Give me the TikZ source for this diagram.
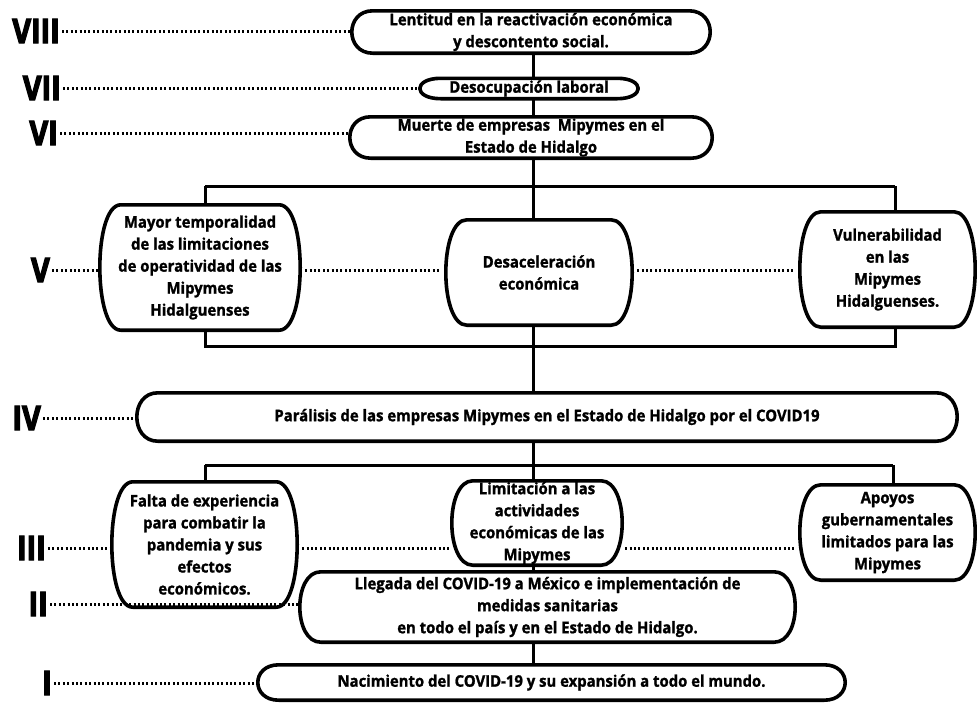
\documentclass[tikz,border=0pt]{standalone}
\usepackage{fontspec}
\setmainfont{Open Sans}[FakeStretch=0.93,BoldFeatures={FakeBold=1.3}]
\newfontfamily\romanf{Open Sans}[FakeStretch=0.85,FakeBold=3.5]
\newcommand\bulgebox[1]{\draw[boxline] ([xshift=21pt]#1.north west) -- ([xshift=-21pt]#1.north east) .. controls ([xshift=7pt]#1.north east) and ([xshift=7pt]#1.south east) .. ([xshift=-21pt]#1.south east) -- ([xshift=21pt]#1.south west) .. controls ([xshift=-7pt]#1.south west) and ([xshift=-7pt]#1.north west) .. cycle;}
\begin{document}
\begin{tikzpicture}[x=1pt,y=-1pt,
  box/.style={draw=none, align=center, font=\bfseries\fontsize{16}{22}\selectfont, inner sep=0pt},
  boxline/.style={line width=3.6pt, line join=round},
  conn/.style={line width=3pt},
  dots/.style={line width=3pt, dash pattern=on 2pt off 2.4pt},
  rom/.style={font=\romanf\bfseries\fontsize{34}{34}\selectfont, anchor=east, inner sep=0pt}]
\useasboundingbox[fill=white] (0,0) rectangle (977,710);
% boxes
\node[box, minimum width=358pt, minimum height=42pt] (n8) at (531,32) {Lentitud en la reactivación económica\\y descontento social.};
\node[box, minimum width=218pt, minimum height=20pt] (n7) at (529,88.5) {Desocupación laboral};
\node[box, minimum width=362pt, minimum height=41pt] (n6) at (531,137.5) {Muerte de empresas\ \ Mipymes en el\\Estado de Hidalgo};
\node[box, minimum width=200pt, minimum height=125pt] (v1) at (200,267.5) {Mayor temporalidad\\de las limitaciones\\de operatividad de las\\Mipymes\\Hidalguenses};
\node[box, minimum width=186pt, minimum height=105pt] (v2) at (539,272.5) {Desaceleración\\económica};
\node[box, minimum width=175pt, minimum height=115pt] (v3) at (887.5,269.5) {Vulnerabilidad\\en las\\Mipymes\\Hidalguenses.};
\node[box, minimum width=820pt, minimum height=48pt] (n4) at (547,417) {Parálisis de las empresas Mipymes en el Estado de Hidalgo por el COVID19};
\node[box, minimum width=185pt, minimum height=125pt] (t1) at (204.5,544.5) {Falta de experiencia\\para combatir la\\pandemia y sus\\efectos\\económicos.};
\node[box, minimum width=170pt, minimum height=84pt] (t2) at (537,523) {Limitación a las\\actividades\\económicas de las\\Mipymes};
\node[box, minimum width=175pt, minimum height=95pt] (t3) at (887.5,532.5) {Apoyos\\gubernamentales\\limitados para las\\Mipymes};
\node[box, minimum width=495pt, minimum height=70pt] (n2) at (547.5,607) {Llegada del COVID-19 a México e implementación de\\medidas sanitarias\\en todo el país y en el Estado de Hidalgo.};
\node[box, minimum width=587pt, minimum height=35pt] (n1) at (551.5,682.5) {Nacimiento del COVID-19 y su expansión a todo el mundo.};
\foreach \b in {n8,n7,n6,v1,v2,v3,n4,t1,t2,t3,n2,n1} {\bulgebox{\b}}
% roman labels
\node[rom] (L8) at (60,31) {VIII};
\node[rom] (L7) at (61,88) {VII};
\node[rom] (L6) at (58,133) {VI};
\node[rom] (L5) at (50,270) {V};
\node[rom] (L4) at (41,418) {IV};
\node[rom] (L3) at (46,548) {III};
\node[rom] (L2) at (48,604) {II};
\node[rom] (L1) at (52,683) {I};
% spine and bars
\coordinate (sp) at (533,0);
\coordinate (b5l) at (205,186);
\coordinate (b5r) at (895,186);
\coordinate (c5l) at (205,346);
\coordinate (c5r) at (895,346);
\coordinate (b3l) at (205,465);
\coordinate (b3r) at (893,465);
\draw[conn] (n8.south -| sp) -- (n7.north -| sp);
\draw[conn] (n7.south -| sp) -- (n6.north -| sp);
\draw[conn] (n6.south -| sp) -- (b5l -| sp);
\draw[conn] (b5l) -- (b5r);
\draw[conn] (b5l) -- (v1.north -| b5l);
\draw[conn] (b5l -| sp) -- (v2.north -| sp);
\draw[conn] (b5r) -- (v3.north -| b5r);
\draw[conn] (v1.south -| c5l) -- (c5l) -- (c5r) -- (v3.south -| c5r);
\draw[conn] (v2.south -| sp) -- (n4.north -| sp);
\draw[conn] (n4.south -| sp) -- (b3l -| sp);
\draw[conn] (b3l) -- (b3r);
\draw[conn] (b3l) -- (t1.north -| b3l);
\draw[conn] (b3l -| sp) -- (t2.north -| sp);
\draw[conn] (b3r) -- (t3.north -| b3r);
\draw[conn] (t2.south -| sp) -- (n2.north -| sp);
\draw[conn] (n2.south -| sp) -- (n1.north -| sp);
% dotted leaders
\draw[dots] ([xshift=2pt]L8.east) -- ([xshift=-2pt]n8.west |- L8.east);
\draw[dots] ([xshift=2pt]L7.east) -- ([xshift=-2pt]n7.west |- L7.east);
\draw[dots] ([xshift=2pt]L6.east) -- ([xshift=-2pt]n6.west |- L6.east);
\draw[dots] ([xshift=2pt]L5.east) -- ([xshift=-2pt]v1.west |- L5.east);
\draw[dots] ([xshift=5pt]v1.east |- L5.east) -- ([xshift=-5pt]v2.west |- L5.east);
\draw[dots] ([xshift=5pt]v2.east |- L5.east) -- ([xshift=-5pt]v3.west |- L5.east);
\draw[dots] ([xshift=2pt]L4.east) -- ([xshift=-2pt]n4.west |- L4.east);
\draw[dots] ([xshift=2pt]L3.east) -- ([xshift=-2pt]t1.west |- L3.east);
\draw[dots] ([xshift=5pt]t1.east |- L3.east) -- ([xshift=-3pt]t2.west |- L3.east);
\draw[dots] ([xshift=3pt]t2.east |- L3.east) -- ([xshift=-5pt]t3.west |- L3.east);
\draw[dots] ([xshift=2pt]L2.east) -- ([xshift=-2pt]n2.west |- L2.east);
\draw[dots] ([xshift=2pt]L1.east) -- ([xshift=-2pt]n1.west |- L1.east);
\end{tikzpicture}
\end{document}
